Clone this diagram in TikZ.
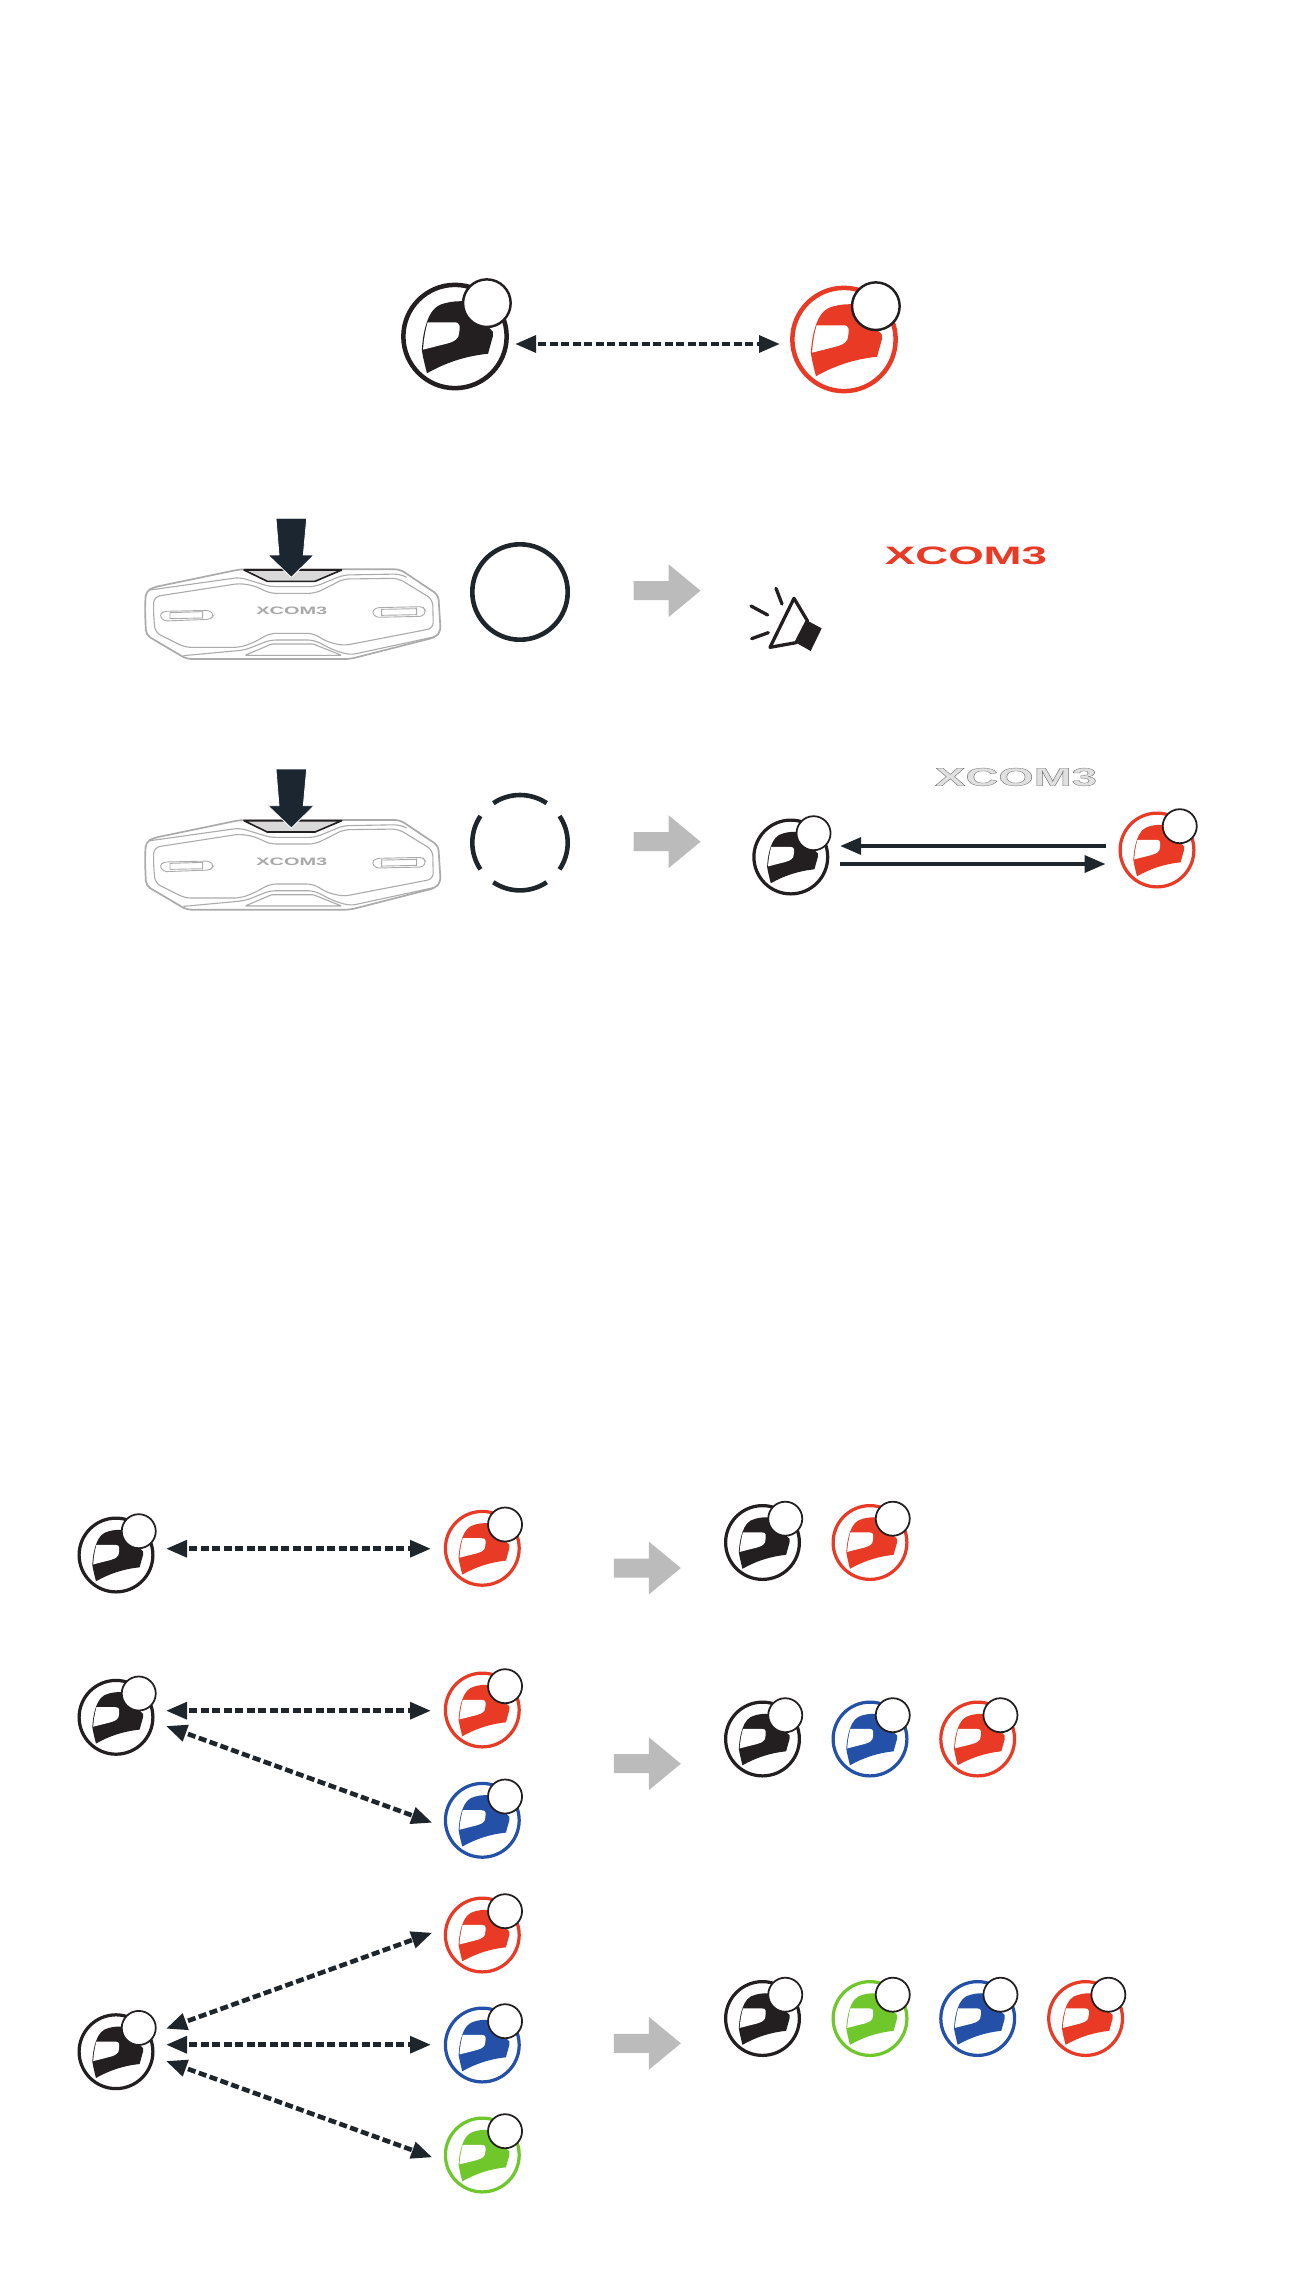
\documentclass[tikz,border=0pt]{standalone}
\usepackage{fontspec}
\setmainfont{Liberation Sans}
\usepackage{graphicx}
\usetikzlibrary{arrows.meta}
\definecolor{hblack}{HTML}{231F20}
\definecolor{hred}{HTML}{E83A25}
\definecolor{hblue}{HTML}{2450A8}
\definecolor{hgreen}{HTML}{6FC72B}
\definecolor{navy}{HTML}{1B2631}
\definecolor{darkline}{HTML}{1F262B}
\definecolor{arrowgrey}{HTML}{BBBBBB}
\definecolor{devline}{HTML}{ABABAB}
\definecolor{logogrey}{HTML}{A8A8A8}
\tikzset{
  ringnode/.style={circle,inner sep=0pt,outer sep=0pt,fill=white},
  dotnode/.style={circle,inner sep=0pt,outer sep=0pt,fill=white,draw=hblack},
  dasharrow/.style={draw=darkline,line width=4.6pt,dash pattern=on 8pt off 3.5pt,dash phase=8pt,
     {Triangle[length=21pt,width=16.5pt]}-{Triangle[length=21pt,width=16.5pt]}},
  solidarrow/.style={draw=darkline,line width=4.4pt,-{Triangle[length=21pt,width=16.5pt]}},
  devoutline/.style={draw=devline,line width=1.7pt,rounded corners=5pt,line join=round},
  devinner/.style={draw=devline,line width=1.1pt,rounded corners=6pt,line join=round},
  devthin/.style={draw=devline,line width=0.9pt},
  logonode/.style={inner sep=0pt,outer sep=0pt},
  statusarc/.style={draw=darkline,line width=4.6pt},
}
\newcommand{\helmet}[5]{%
  \node[ringnode,draw=#5,line width={4.6pt*#4},minimum size={105.4pt*#4}] (#1) at (#2,#3) {};
  \begin{scope}[shift={(#2,#3)},scale=#4]
    \fill[#5] (-28.6,37.5) .. controls (-31,28) and (-33,20) .. (-33.8,14)
      .. controls (-33,0) and (-31,-8) .. (-28.6,-15)
      .. controls (-25,-25) and (-20,-32) .. (-10,-34)
      .. controls (-3,-36) and (3,-36) .. (8,-36) -- (38.6,-5) -- (38.6,0) -- (33.7,17.6)
      .. controls (10,20) and (-10,27) .. (-28.6,37.5) -- cycle;
    \fill[white] (-28,-14.5) -- (-1,-14.5) .. controls (6,-14.5) and (5.5,-10) .. (3.4,0.3)
      .. controls (0,5) and (-4,6) .. (-8,7.2) -- (-32.6,13.4)
      .. controls (-32,3) and (-30,-7) .. (-28,-14.5) -- cycle;
    \node[dotnode,line width={2.5pt*#4},minimum size={48.6pt*#4}] (#1b) at (32.5,-34) {};
  \end{scope}}
\newcommand{\greyarrow}[2]{%
  \fill[arrowgrey] (#1,#2) ++(0,-9.5) -- ++(35,0) -- ++(0,-17) -- ++(32,26.5) -- ++(-32,26.5) -- ++(0,-17) -- ++(-35,0) -- cycle;}
\newcommand{\device}[3]{%
  \begin{scope}[shift={(#1,#2)},scale=1/3]
    \path[fill=white,devoutline] (45,330) -- (47,275) -- (70,262) -- (330,208) -- (810,208) -- (925,285) -- (932,395) -- (915,412) -- (660,477) -- (170,477) -- (48,405) -- cycle;
    \draw[devinner] (60,270) -- (330,232) -- (420,260) -- (555,260) -- (640,225) -- (810,222) -- (830,232);
    \draw[devinner] (70,330) -- (72,290) -- (330,250) -- (375,258) -- (420,280) -- (555,280) -- (600,258) -- (640,237) -- (805,235) -- (908,298) -- (910,385) -- (640,437) -- (590,425) -- (550,400) -- (420,400) -- (370,428) -- (330,442) -- (165,442) -- (75,397) -- cycle;
    \draw[devinner] (160,467) -- (345,450) -- (420,420) -- (552,420) -- (610,450) -- (660,465) -- (915,410);
    \draw[devinner,rounded corners=1pt] (345,466) -- (425,432) -- (550,432) -- (635,466) -- cycle;
    \draw[devthin,rounded corners=3pt] (88,345) -- (102,334) -- (238,331) -- (252,345) -- (240,358) -- (102,363) -- cycle;
    \draw[devthin] (120,338) -- (120,357) (218,335) -- (218,356) (120,338) -- (218,335) (120,356) -- (218,354);
    \draw[devthin,rounded corners=3pt] (725,336) -- (738,323) -- (878,320) -- (888,334) -- (878,349) -- (738,352) -- cycle;
    \draw[devthin] (755,326) -- (755,349) (860,323) -- (860,346) (755,328) -- (860,326) (755,346) -- (860,344);
    \fill[fill=black!15,draw=hblack,line width=1.6pt,line join=round] (342,210) -- (635,210) -- (555,244) -- (412,244) -- cycle;
    \fill[navy,draw=white,line width=0.8pt] (438,55) -- (530,55) -- (520,165) -- (552,165) -- (484,232) -- (414,165) -- (447,165) -- cycle;
  \end{scope}}
\begin{document}
\begin{tikzpicture}[x=1pt,y=-1pt]
\useasboundingbox (0,0) rectangle (1304,2296);
% top pair
\helmet{topk}{455}{336.5}{0.98}{hblack}
\helmet{topr}{844}{339.5}{0.98}{hred}
\coordinate (topa) at (515,344);
\coordinate (topb) at (780,344);
\draw[dasharrow] (topa) -- (topb);
% devices
\device{130}{500}{a}
\device{130}{750.7}{b}
\node[logonode,text=logogrey] (devlogoa) at (291.8,611.3) {\resizebox{71pt}{7.5pt}{\bfseries XCOM3}};
\node[logonode,text=logogrey] (devlogob) at (291.8,862) {\resizebox{71pt}{7.5pt}{\bfseries XCOM3}};
% status rings
\node[circle,inner sep=0pt,outer sep=0pt,draw=darkline,line width=4.6pt,minimum size=95.4pt] (statusa) at (520,592) {};
\coordinate (statusb) at (520,842.7);
\foreach \s in {56,146,236,326}{
  \draw[statusarc] ([shift={(\s:47.7)}]statusb) arc[start angle=\s,delta angle=68,radius=47.7] ;
}
% grey arrows
\greyarrow{633.5}{590.7}
\greyarrow{633.5}{841.7}
\greyarrow{613.8}{1568}
\greyarrow{613.8}{1763.7}
\greyarrow{613.8}{2043.3}
% speaker
\begin{scope}[shift={(720,520)},scale=1/3]
  \fill[hblack] (262,302) -- (305,325) -- (272,393) -- (228,368) -- cycle;
  \draw[hblack,line width=3.3pt,line join=round] (222,235) -- (150,382) -- (228,368) -- (262,302) -- cycle;
  \draw[hblack,line width=3.3pt,line cap=round] (168,205) -- (186,252) (93,258) -- (143,285) (95,356) -- (145,338);
\end{scope}
% logos
\node[logonode,text=hred] (logored) at (966,555.5) {\resizebox{162pt}{17.6pt}{\bfseries XCOM3}};
\node[logonode,text=black!12] (logogrey) at (1016,777) {\resizebox{162pt}{17.6pt}{\special{pdf:code q 2 Tr 0.12 w 0.45 G}\bfseries XCOM3\special{pdf:code Q}}};
% paired helmets
\helmet{pk}{790.8}{857}{0.7}{hblack}
\helmet{pr}{1157}{850}{0.7}{hred}
\coordinate (pra) at (1106,846);
\coordinate (pka) at (840,846);
\coordinate (pkb) at (840,864);
\coordinate (prb) at (1105.7,864);
\draw[solidarrow] (pra) -- (pka);
\draw[solidarrow] (pkb) -- (prb);
% left column
\helmet{ak}{116}{1555}{0.7}{hblack}
\helmet{ar}{482.3}{1548.3}{0.7}{hred}
\coordinate (a1) at (166,1548.7);
\coordinate (a2) at (431,1548.7);
\draw[dasharrow] (a1) -- (a2);
\helmet{bk}{116}{1717.3}{0.7}{hblack}
\helmet{br}{482.3}{1710}{0.7}{hred}
\helmet{bb}{482.3}{1820.3}{0.7}{hblue}
\coordinate (b1) at (166,1710.7);
\coordinate (b2) at (431,1710.7);
\coordinate (b3) at (166,1726);
\coordinate (b4) at (432.3,1822.7);
\draw[dasharrow] (b1) -- (b2);
\draw[dasharrow] (b3) -- (b4);
\helmet{ck}{116}{2051.7}{0.7}{hblack}
\helmet{cr}{482.3}{1935}{0.7}{hred}
\helmet{cb}{482.3}{2045}{0.7}{hblue}
\helmet{cg}{482.3}{2155}{0.7}{hgreen}
\coordinate (c1) at (166,2028.7);
\coordinate (c2) at (432.3,1932.7);
\coordinate (c3) at (166,2044.7);
\coordinate (c4) at (431,2044.7);
\coordinate (c5) at (166,2061);
\coordinate (c6) at (432.3,2157.3);
\draw[dasharrow] (c1) -- (c2);
\draw[dasharrow] (c3) -- (c4);
\draw[dasharrow] (c5) -- (c6);
% right column
\helmet{dk}{762.5}{1542.5}{0.7}{hblack}
\helmet{dr}{870}{1542.5}{0.7}{hred}
\helmet{ek}{762.5}{1739}{0.7}{hblack}
\helmet{eb}{870}{1739}{0.7}{hblue}
\helmet{er}{977.7}{1739}{0.7}{hred}
\helmet{fk}{762.5}{2018.5}{0.7}{hblack}
\helmet{fg}{870}{2018.5}{0.7}{hgreen}
\helmet{fb}{977.7}{2018.5}{0.7}{hblue}
\helmet{fr}{1085.6}{2018.5}{0.7}{hred}
\end{tikzpicture}
\end{document}
